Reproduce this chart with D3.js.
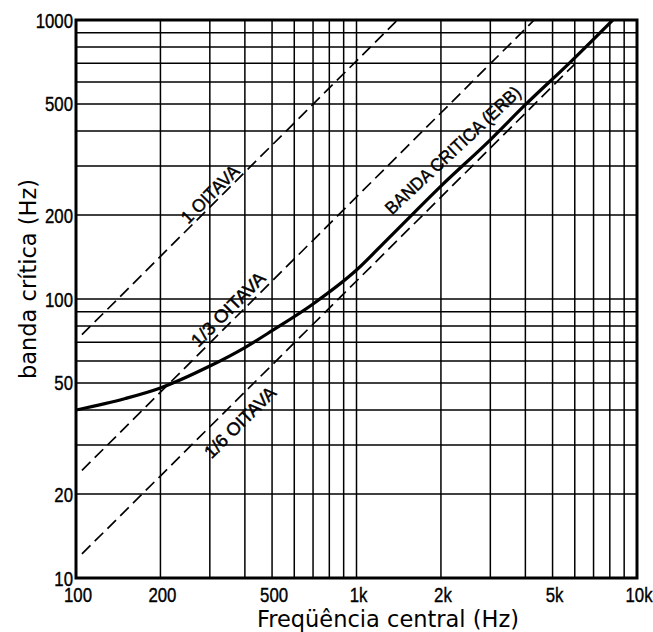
<!doctype html>
<html lang="pt">
<head>
<meta charset="utf-8">
<script src="https://cdn.jsdelivr.net/npm/d3@7"></script>
<style>
    body { margin: 0; background: #fff; }
    .tick-label { font-family: "Liberation Sans", Arial, sans-serif; font-size: 21px; fill: #000; stroke: #000; stroke-width: 0.4px; }
    .axis-title { font-family: "DejaVu Sans", sans-serif; font-size: 22.5px; fill: #000; }
    .curve-label { font-family: "Liberation Sans", Arial, sans-serif; font-size: 18px; fill: #000; stroke: #000; stroke-width: 0.45px; }
</style>
</head>
<body>
<div id="chart"></div>
<script>
// grade do papel log-log
var xGrid = [100, 200, 300, 400, 500, 600, 700, 800, 900, 1000, 2000, 3000, 4000, 5000, 6000, 7000, 8000, 9000, 10000];
var yGrid = [10, 20, 30, 40, 50, 60, 70, 80, 90, 100, 200, 300, 400, 500, 600, 700, 800, 900, 1000];

var xTicks = [100, 200, 500, 1000, 2000, 5000, 10000];
var xTickLabels = ["100", "200", "500", "1k", "2k", "5k", "10k"];
var yTicks = [10, 20, 50, 100, 200, 500, 1000];
var yTickLabels = ["10", "20", "50", "100", "200", "500", "1000"];

// banda critica (ERB)
var erbFreq = [100, 150, 200, 300, 400, 500, 700, 1000, 1300, 2000, 3000, 4000, 5800, 8200];
var erbWidth = [40, 44, 48, 57.5, 67, 77, 96, 127, 165, 254, 372, 497, 708, 1000];

// retas tracejadas (inicio e fim)
var oneOctFreq = [105, 1400];
var oneOctWidth = [74.5, 1000];
var thirdOctFreq = [105, 4300];
var thirdOctWidth = [24.3, 1000];
var sixthOctFreq = [105, 6000];
var sixthOctWidth = [12.2, 695];

var W = 653, H = 632;
var margin = {top: 20, right: 16, bottom: 54, left: 76};
var narrow = 0.8; // fonte condensada

var svg = d3.select("#chart").append("svg")
    .attr("width", W)
    .attr("height", H);

var x = d3.scaleLog()
    .domain([100, 10000])
    .range([margin.left, W - margin.right]);
var y = d3.scaleLog()
    .domain([10, 1000])
    .range([H - margin.bottom, margin.top]);

svg.append("clipPath").attr("id", "plot")
  .append("rect")
    .attr("x", x(100)).attr("y", y(1000))
    .attr("width", x(10000) - x(100))
    .attr("height", y(10) - y(1000));

// grid
svg.append("g")
    .attr("stroke", "#000")
    .attr("stroke-width", 1.5)
    .selectAll("line")
    .data(xGrid)
    .join("line")
    .attr("x1", d => x(d)).attr("x2", d => x(d))
    .attr("y1", y(10)).attr("y2", y(1000));

svg.append("g")
    .attr("stroke", "#000")
    .attr("stroke-width", 1.5)
    .selectAll("line")
    .data(yGrid)
    .join("line")
    .attr("x1", x(100)).attr("x2", x(10000))
    .attr("y1", d => y(d)).attr("y2", d => y(d));

// retas de oitava
var dashed = [
    {f: oneOctFreq, w: oneOctWidth},
    {f: thirdOctFreq, w: thirdOctWidth},
    {f: sixthOctFreq, w: sixthOctWidth}
];
var straight = d3.line()
    .x(d => x(d[0]))
    .y(d => y(d[1]));

svg.append("g")
    .attr("clip-path", "url(#plot)")
    .selectAll("path")
    .data(dashed)
    .join("path")
    .attr("fill", "none")
    .attr("stroke", "#000")
    .attr("stroke-width", 1.7)
    .attr("stroke-dasharray", "12,6")
    .attr("d", d => straight(d.f.map((f, i) => [f, d.w[i]])));

// curva ERB
svg.append("path")
    .datum(erbFreq.map((f, i) => [f, erbWidth[i]]))
    .attr("clip-path", "url(#plot)")
    .attr("fill", "none")
    .attr("stroke", "#000")
    .attr("stroke-width", 3.2)
    .attr("stroke-linecap", "round")
    .attr("d", d3.line()
        .x(d => x(d[0]))
        .y(d => y(d[1]))
        .curve(d3.curveMonotoneX));

// rotulos das curvas
var labels = [
    {text: "1 OITAVA", f: 300, v: 238, angle: -45, len: 74},
    {text: "1/3 OITAVA", f: 348, v: 92, angle: -45, len: 97},
    {text: "1/6 OITAVA", f: 384, v: 36.2, angle: -45, len: 93},
    {text: "BANDA CRITICA (ERB)", f: 2200, v: 342, angle: -43, len: 178}
];
svg.append("g")
    .selectAll("text")
    .data(labels)
    .join("text")
    .attr("class", "curve-label")
    .attr("transform", d => "translate(" + x(d.f) + "," + y(d.v) + ") rotate(" + d.angle + ")")
    .attr("text-anchor", "middle")
    .attr("dy", "0.36em")
    .attr("textLength", d => d.len)
    .attr("lengthAdjust", "spacingAndGlyphs")
    .text(d => d.text);

// moldura
svg.append("rect")
    .attr("x", x(100)).attr("y", y(1000))
    .attr("width", x(10000) - x(100))
    .attr("height", y(10) - y(1000))
    .attr("fill", "none")
    .attr("stroke", "#000")
    .attr("stroke-width", 3);

// rotulos dos eixos
svg.append("g")
    .selectAll("text")
    .data(yTicks)
    .join("text")
    .attr("class", "tick-label")
    .attr("transform", d => "translate(" + (x(100) - 3) + "," + (y(d) + 7.5) + ") scale(" + narrow + ",1)")
    .attr("text-anchor", "end")
    .text((d, i) => yTickLabels[i]);

svg.append("g")
    .selectAll("text")
    .data(xTicks)
    .join("text")
    .attr("class", "tick-label")
    .attr("transform", d => "translate(" + (x(d) + 2) + "," + (y(10) + 24) + ") scale(" + narrow + ",1)")
    .attr("text-anchor", "middle")
    .text((d, i) => xTickLabels[i]);

svg.append("text")
    .attr("class", "axis-title")
    .attr("x", 388)
    .attr("y", 627)
    .attr("text-anchor", "middle")
    .text("Freqüência central (Hz)");

svg.append("text")
    .attr("class", "axis-title")
    .attr("transform", "translate(36,279) rotate(-90)")
    .attr("text-anchor", "middle")
    .text("banda crítica (Hz)");
</script>
</body>
</html>
